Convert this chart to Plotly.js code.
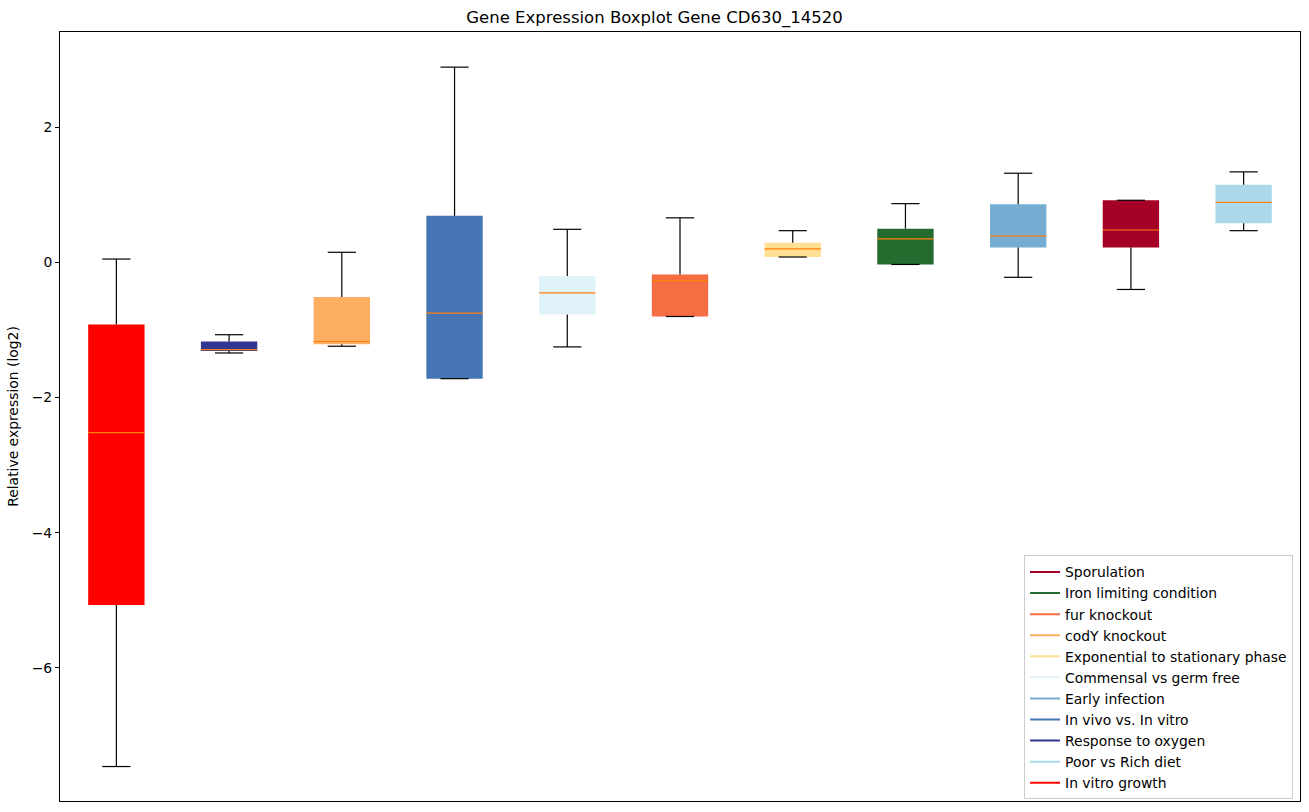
<!DOCTYPE html>
<html>
<head>
<meta charset="utf-8">
<script src="https://cdn.plot.ly/plotly-3.0.1.min.js"></script>
<style>html,body{margin:0;padding:0;background:#fff;}#chart{width:1309px;height:812px;}</style>
</head>
<body>
<div id="chart"></div>
<script>
// Data (box order left to right)
const categories = ["In vitro growth","Response to oxygen","codY knockout","In vivo vs. In vitro","Commensal vs germ free","fur knockout","Exponential to stationary phase","Iron limiting condition","Early infection","Sporulation","Poor vs Rich diet"];
const whiskerLow = [-7.46,-1.34,-1.24,-1.72,-1.25,-0.80,0.08,-0.03,-0.22,-0.40,0.47];
const q1Values   = [-5.07,-1.31,-1.21,-1.72,-0.77,-0.80,0.08,-0.03,0.22,0.22,0.58];
const medians    = [-2.52,-1.29,-1.17,-0.75,-0.45,-0.27,0.20,0.35,0.39,0.48,0.89];
const q3Values   = [-0.92,-1.17,-0.51,0.69,-0.20,-0.18,0.29,0.50,0.86,0.92,1.15];
const whiskerHigh= [0.05,-1.07,0.15,2.89,0.49,0.66,0.47,0.87,1.32,0.92,1.34];
const legendOrder = ["Sporulation","Iron limiting condition","fur knockout","codY knockout","Exponential to stationary phase","Commensal vs germ free","Early infection","In vivo vs. In vitro","Response to oxygen","Poor vs Rich diet","In vitro growth"];

// Styles
const colorMap = {
  "In vitro growth":"#ff0000",
  "Response to oxygen":"#313695",
  "codY knockout":"#fdae61",
  "In vivo vs. In vitro":"#4575b4",
  "Commensal vs germ free":"#e0f3f8",
  "fur knockout":"#f46d43",
  "Exponential to stationary phase":"#fee090",
  "Iron limiting condition":"#236b2e",
  "Early infection":"#74add1",
  "Sporulation":"#a50026",
  "Poor vs Rich diet":"#abd9e9"
};
const boxW = 0.5, capW = 0.25;
const positions = categories.map((c,i)=>i+1);

const traces = [];
// Box bodies
traces.push({
  type:'bar', x:positions, base:q1Values,
  y:q3Values.map((v,i)=>v-q1Values[i]),
  width:boxW, marker:{color:categories.map(c=>colorMap[c]), line:{width:0}},
  showlegend:false, hoverinfo:'skip'
});
// Whiskers and caps
const wx=[], wy=[], cx=[], cy=[], mx=[], my=[];
positions.forEach((p,i)=>{
  wx.push(p,p,null,p,p,null);
  wy.push(q3Values[i],whiskerHigh[i],null,q1Values[i],whiskerLow[i],null);
  cx.push(p-capW/2,p+capW/2,null,p-capW/2,p+capW/2,null);
  cy.push(whiskerHigh[i],whiskerHigh[i],null,whiskerLow[i],whiskerLow[i],null);
  mx.push(p-boxW/2,p+boxW/2,null);
  my.push(medians[i],medians[i],null);
});
traces.push({type:'scatter',mode:'lines',x:wx,y:wy,line:{color:'#000',width:1.2},showlegend:false,hoverinfo:'skip'});
traces.push({type:'scatter',mode:'lines',x:cx,y:cy,line:{color:'#000',width:1.2},showlegend:false,hoverinfo:'skip'});
traces.push({type:'scatter',mode:'lines',x:mx,y:my,line:{color:'#ff7f0e',width:1.2},showlegend:false,hoverinfo:'skip'});
// Legend entries
legendOrder.forEach(name=>{
  traces.push({type:'scatter',mode:'lines',x:[null],y:[null],name:name,line:{color:colorMap[name],width:2}});
});

const layout = {
  width:1309, height:812,
  margin:{l:60,r:9,t:32,b:11},
  paper_bgcolor:'#fff', plot_bgcolor:'#fff',
  font:{family:'DejaVu Sans, sans-serif', size:13.9, color:'#000'},
  title:{text:'Gene Expression Boxplot Gene CD630_14520', font:{size:16.5,color:'#000'}, x:0.5, xanchor:'center', xref:'container', y:0.979, yref:'container', yanchor:'middle'},
  xaxis:{range:[0.5,11.5], showticklabels:false, ticks:'', showgrid:false, zeroline:false, showline:true, linecolor:'#000', linewidth:1, mirror:true},
  yaxis:{range:[-7.97,3.41], tickvals:[2,0,-2,-4,-6], ticks:'outside', ticklen:4, tickcolor:'#000', showgrid:false, zeroline:false, showline:true, linecolor:'#000', linewidth:1, mirror:true,
         title:{text:'Relative expression (log2)', font:{size:13.9}, standoff:9}, tickfont:{size:13.9}},
  showlegend:true,
  legend:{x:0.9944, xanchor:'right', y:0.002, yanchor:'bottom', bgcolor:'#fff', bordercolor:'#cccccc', borderwidth:1, font:{size:13.9}, traceorder:'normal', itemwidth:30},
  barmode:'overlay'
};
Plotly.newPlot('chart', traces, layout, {displayModeBar:false, staticPlot:true});
</script>
</body>
</html>
